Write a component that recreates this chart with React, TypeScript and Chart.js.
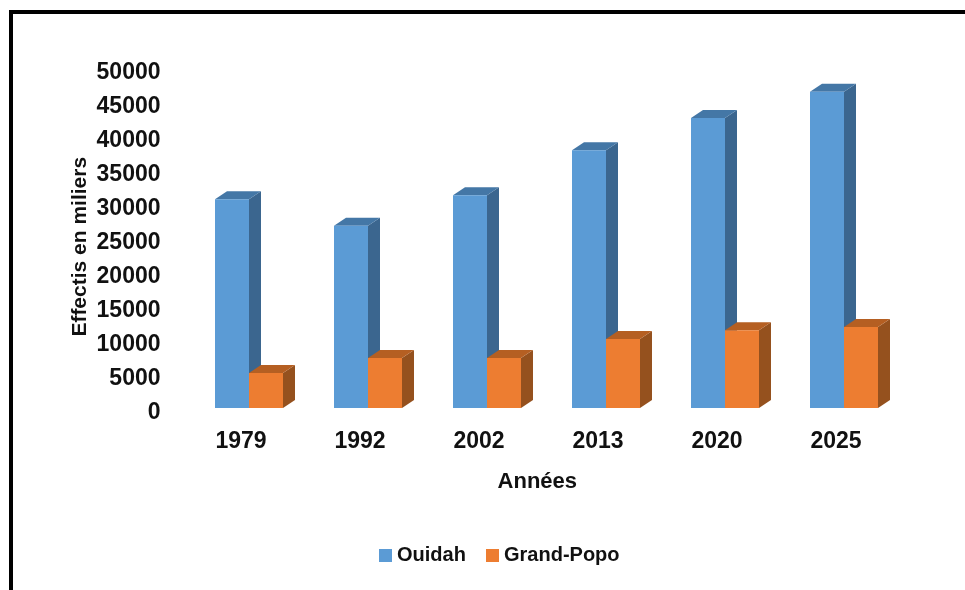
import React, { useEffect, useRef } from "react";
import { Chart, registerables } from "chart.js";

Chart.register(...registerables);

const years = ["1979", "1992", "2002", "2013", "2020", "2025"];
const ouidah = [30700, 26800, 31300, 37900, 42650, 46500];
const grandPopo = [5150, 7350, 7350, 10150, 11450, 11900];

const seriesNames = ["Ouidah", "Grand-Popo"];
const frontColors = ["#5B9BD5", "#ED7D31"];
const topColors = ["#4477A6", "#B55F22"];
const sideColors = ["#3B668F", "#95511E"];
const DEPTH_X = 12;
const DEPTH_Y = 8;

const poly = (ctx: CanvasRenderingContext2D, pts: number[][], fill: string) => {
  ctx.fillStyle = fill;
  ctx.beginPath();
  pts.forEach(([x, y], i) => (i ? ctx.lineTo(x, y) : ctx.moveTo(x, y)));
  ctx.closePath();
  ctx.fill();
};

const bars3d = {
  id: "bars3d",
  beforeDatasetsDraw(chart: any) {
    const ctx = chart.ctx;
    const n = chart.data.labels.length;
    for (let i = 0; i < n; i++) {
      chart.data.datasets.forEach((_: any, d: number) => {
        const el = chart.getDatasetMeta(d).data[i] as any;
        const l = el.x - el.width / 2;
        const r = el.x + el.width / 2;
        const t = el.y;
        const b = el.base;
        poly(ctx, [[r, t], [r + DEPTH_X, t - DEPTH_Y], [r + DEPTH_X, b - DEPTH_Y], [r, b]], sideColors[d]);
        poly(ctx, [[l, t], [l + DEPTH_X, t - DEPTH_Y], [r + DEPTH_X, t - DEPTH_Y], [r, t]], topColors[d]);
      });
    }
  },
};

const legendFont = "bold 20px 'Liberation Sans'";
const sideLegend = {
  id: "sideLegend",
  afterDraw(chart: any) {
    const ctx = chart.ctx;
    const starts = [379, 486];
    ctx.save();
    ctx.font = legendFont;
    ctx.textBaseline = "middle";
    ctx.textAlign = "left";
    chart.data.datasets.forEach((ds: any, d: number) => {
      ctx.fillStyle = ds.backgroundColor;
      ctx.fillRect(starts[d], 549, 13, 13);
      ctx.fillStyle = "#111111";
      ctx.fillText(ds.label, starts[d] + 18, 555);
    });
    ctx.restore();
  },
};

export default function App() {
  const ref = useRef<HTMLCanvasElement>(null);
  useEffect(() => {
    const chart = new Chart(ref.current!, {
      type: "bar",
      data: {
        labels: years,
        datasets: [
          { label: seriesNames[0], data: ouidah, backgroundColor: frontColors[0], barPercentage: 1, categoryPercentage: 0.5714 },
          { label: seriesNames[1], data: grandPopo, backgroundColor: frontColors[1], barPercentage: 1, categoryPercentage: 0.5714 },
        ],
      },
      options: {
        responsive: false,
        animation: false,
        layout: { padding: { left: 68, right: 61.5, top: 68, bottom: 92 } },
        plugins: { legend: { display: false }, tooltip: { enabled: false } },
        scales: {
          x: {
            grid: { display: false, drawTicks: false },
            border: { display: false },
            afterFit: (s: any) => { s.height = 90; },
            ticks: {
              color: "#111111",
              font: { family: "'Liberation Sans Narrow','Liberation Sans'", size: 23, weight: "bold" },
              padding: 20,
              labelOffset: -8,
              maxRotation: 0,
              autoSkip: false,
            },
            title: {
              display: true,
              text: "Années   ",
              color: "#111111",
              font: { family: "'Liberation Sans'", size: 22, weight: "bold" },
              padding: { top: 0, bottom: 3 },
            },
          },
          y: {
            min: 0,
            max: 50000,
            grid: { display: false, drawTicks: false },
            border: { display: false },
            afterFit: (s: any) => { s.width = 121.5; },
            ticks: {
              stepSize: 5000,
              color: "#111111",
              font: { family: "'Liberation Sans Narrow','Liberation Sans'", size: 23, weight: "bold" },
              padding: 29,
              labelOffset: 5,
              callback: (v: any) => String(v),
            },
            title: {
              display: true,
              text: "Effectis en miliers   ",
              color: "#111111",
              font: { family: "'Liberation Sans'", size: 21, weight: "bold" },
              padding: 0,
            },
          },
        },
      },
      plugins: [bars3d, sideLegend],
    } as any);
    return () => chart.destroy();
  }, []);

  return (
    <div style={{ position: "fixed", left: 0, top: 0, width: 965, height: 590, background: "#fff", overflow: "hidden" }}>
      <div style={{ position: "absolute", left: 9, top: 10, width: 960, height: 600, borderLeft: "4px solid #000", borderTop: "4px solid #000" }} />
      <canvas ref={ref} width={965} height={590} style={{ position: "absolute", left: 0, top: 0, width: 965, height: 590 }} />
    </div>
  );
}
